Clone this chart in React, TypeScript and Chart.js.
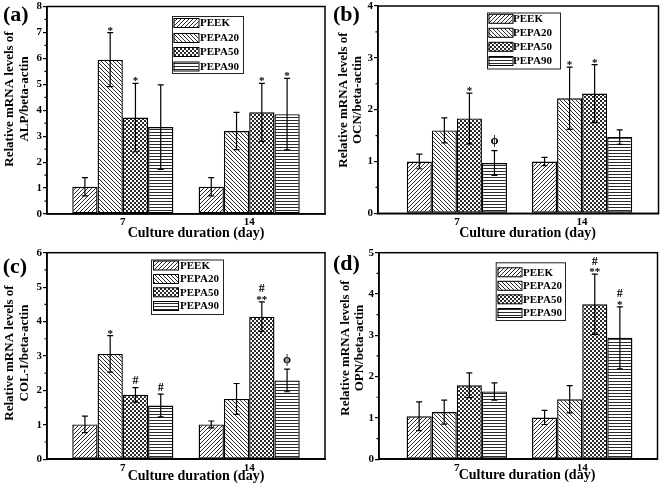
import React, { useEffect, useRef } from 'react';
import { Chart, registerables } from 'chart.js';
Chart.register(...registerables);

const W = 661;
const H = 487;
const FONT = '"Liberation Serif", "Times New Roman", Times, serif';

const seriesNames = ['PEEK', 'PEPA20', 'PEPA50', 'PEPA90'];
const dayLabels = ['7', '14'];
const dayPositions = [1, 2];

// (a) ALP
const alpPEEK = [1.05, 1.05];
const alpPEPA20 = [5.95, 3.2];
const alpPEPA50 = [3.72, 3.92];
const alpPEPA90 = [3.35, 3.85];
const alpErrPEEK = [0.35, 0.35];
const alpErrPEPA20 = [1.04, 0.72];
const alpErrPEPA50 = [1.32, 1.12];
const alpErrPEPA90 = [1.63, 1.38];
const alpMarks = [['', ''], ['*', ''], ['*', '*'], ['', '*']];

// (b) OCN
const ocnPEEK = [1.0, 1.0];
const ocnPEPA20 = [1.6, 2.22];
const ocnPEPA50 = [1.83, 2.31];
const ocnPEPA90 = [0.97, 1.47];
const ocnErrPEEK = [0.14, 0.08];
const ocnErrPEPA20 = [0.24, 0.6];
const ocnErrPEPA50 = [0.49, 0.56];
const ocnErrPEPA90 = [0.24, 0.14];
const ocnMarks = [['', ''], ['', '*'], ['*', '*'], ['ϕ', '']];

// (c) COL-I
const colPEEK = [1.01, 1.01];
const colPEPA20 = [3.06, 1.75];
const colPEPA50 = [1.87, 4.14];
const colPEPA90 = [1.56, 2.29];
const colErrPEEK = [0.24, 0.1];
const colErrPEPA20 = [0.53, 0.45];
const colErrPEPA50 = [0.21, 0.43];
const colErrPEPA90 = [0.33, 0.33];
const colMarks = [['', ''], ['*', ''], ['#', '#\n**'], ['#', 'ϕ']];

// (d) OPN
const opnPEEK = [1.04, 1.01];
const opnPEPA20 = [1.14, 1.45];
const opnPEPA50 = [1.79, 3.75];
const opnPEPA90 = [1.64, 2.94];
const opnErrPEEK = [0.35, 0.17];
const opnErrPEPA20 = [0.29, 0.33];
const opnErrPEPA50 = [0.3, 0.73];
const opnErrPEPA90 = [0.21, 0.75];
const opnMarks = [['', ''], ['', ''], ['', '#\n**'], ['', '#\n*']];

type Panel = {
  id: string;
  label: string;
  yTitle: string[];
  yMax: number;
  values: number[][];
  errors: number[][];
  marks: string[][];
  area: { l: number; r: number; t: number; b: number };
  xMin: number;
  xMax: number;
  labelPos: [number, number];
  yTitleX: [number, number];
  yTitleY: number;
  xTitlePos: [number, number];
  legend: { x: number; y: number; w: number; h: number; rows: number[]; sx: number; sw: number; tx: number };
};

const xTitle = 'Culture duration (day)';

const panels: Panel[] = [
  {
    id: 'a', label: '(a)', yTitle: ['Relative mRNA levels of', 'ALP/beta-actin'], yMax: 8,
    values: [alpPEEK, alpPEPA20, alpPEPA50, alpPEPA90],
    errors: [alpErrPEEK, alpErrPEPA20, alpErrPEPA50, alpErrPEPA90],
    marks: alpMarks,
    area: { l: 47, r: 325, t: 6.5, b: 214 }, xMin: 0.4, xMax: 2.6,
    labelPos: [3, 15.5], yTitleX: [10, 25], yTitleY: 99, xTitlePos: [196, 233],
    legend: { x: 172, y: 16, w: 71, h: 57, rows: [23, 38, 52, 66.5], sx: 173.5, sw: 25, tx: 200 },
  },
  {
    id: 'b', label: '(b)', yTitle: ['Relative mRNA levels of', 'OCN/beta-actin'], yMax: 4,
    values: [ocnPEEK, ocnPEPA20, ocnPEPA50, ocnPEPA90],
    errors: [ocnErrPEEK, ocnErrPEPA20, ocnErrPEPA50, ocnErrPEPA90],
    marks: ocnMarks,
    area: { l: 378, r: 658.5, t: 6, b: 213.3 }, xMin: 0.37, xMax: 2.61,
    labelPos: [333, 15.5], yTitleX: [344, 358], yTitleY: 100, xTitlePos: [527.5, 233],
    legend: { x: 487, y: 12.5, w: 73, h: 56, rows: [18.8, 32.8, 46.8, 61], sx: 488.5, sw: 24, tx: 513 },
  },
  {
    id: 'c', label: '(c)', yTitle: ['Relative mRNA levels of', 'COL-I/beta-actin'], yMax: 6,
    values: [colPEEK, colPEPA20, colPEPA50, colPEPA90],
    errors: [colErrPEEK, colErrPEPA20, colErrPEPA50, colErrPEPA90],
    marks: colMarks,
    area: { l: 47, r: 325, t: 252.7, b: 459.2 }, xMin: 0.4, xMax: 2.6,
    labelPos: [2.7, 267], yTitleX: [9.5, 25], yTitleY: 353, xTitlePos: [196, 476],
    legend: { x: 151, y: 259.5, w: 72, h: 54.5, rows: [265.5, 279, 292.3, 306], sx: 153, sw: 25, tx: 180 },
  },
  {
    id: 'd', label: '(d)', yTitle: ['Relative mRNA levels of', 'OPN/beta-actin'], yMax: 5,
    values: [opnPEEK, opnPEPA20, opnPEPA50, opnPEPA90],
    errors: [opnErrPEEK, opnErrPEPA20, opnErrPEPA50, opnErrPEPA90],
    marks: opnMarks,
    area: { l: 379, r: 657.5, t: 252.7, b: 459.2 }, xMin: 0.38, xMax: 2.6,
    labelPos: [333, 264], yTitleX: [345.5, 360], yTitleY: 348, xTitlePos: [527, 475],
    legend: { x: 495.7, y: 262.3, w: 69.3, h: 57.7, rows: [272.3, 285.8, 299.3, 313], sx: 497.5, sw: 24, tx: 523 },
  },
];

function makePattern(ctx: CanvasRenderingContext2D, kind: number): CanvasPattern {
  const c = document.createElement('canvas');
  const s = kind === 3 ? 3 : 4;
  c.width = 4;
  c.height = s;
  const g = c.getContext('2d')!;
  g.fillStyle = '#ffffff';
  g.fillRect(0, 0, 4, s);
  g.strokeStyle = '#2a2a2a';
  g.fillStyle = '#2a2a2a';
  g.lineWidth = 1;
  if (kind === 0) {
    g.beginPath();
    g.moveTo(0, 4); g.lineTo(4, 0);
    g.moveTo(-1, 1); g.lineTo(1, -1);
    g.moveTo(3, 5); g.lineTo(5, 3);
    g.stroke();
  } else if (kind === 1) {
    g.beginPath();
    g.moveTo(0, 0); g.lineTo(4, 4);
    g.moveTo(3, -1); g.lineTo(5, 1);
    g.moveTo(-1, 3); g.lineTo(1, 5);
    g.stroke();
  } else if (kind === 2) {
    g.fillRect(0, 0, 2, 2);
    g.fillRect(2, 2, 2, 2);
  } else {
    g.fillRect(0, 0, 4, 1);
  }
  return ctx.createPattern(c, 'repeat')!;
}

function markBaseOffset(s: string): number {
  if (s.includes('*')) return 1;
  if (s.includes('#')) return -3.5;
  return -6.5;
}
function markFont(s: string): string {
  if (s.includes('*')) return `bold 11px ${FONT}`;
  if (s.includes('#')) return `bold 12px ${FONT}`;
  return `bold 13px ${FONT}`;
}

function decoPlugin(p: Panel, pats: CanvasPattern[]) {
  return {
    id: 'deco' + p.id,
    afterDatasetsDraw(chart: any) {
      const ctx: CanvasRenderingContext2D = chart.ctx;
      const ys = chart.scales.y;
      ctx.save();
      ctx.strokeStyle = '#000';
      ctx.lineWidth = 1.2;
      chart.data.datasets.forEach((_ds: any, i: number) => {
        const meta = chart.getDatasetMeta(i);
        meta.data.forEach((el: any, j: number) => {
          const v = p.values[i][j];
          const e = p.errors[i][j];
          const yt = ys.getPixelForValue(v + e);
          const yb = ys.getPixelForValue(v - e);
          ctx.beginPath();
          ctx.moveTo(el.x, yt); ctx.lineTo(el.x, yb);
          ctx.moveTo(el.x - 3, yt); ctx.lineTo(el.x + 3, yt);
          ctx.moveTo(el.x - 3, yb); ctx.lineTo(el.x + 3, yb);
          ctx.stroke();
          const m = p.marks[i][j];
          if (m) {
            const lines = m.split('\n');
            ctx.fillStyle = '#000';
            ctx.textAlign = 'center';
            ctx.textBaseline = 'alphabetic';
            let base = yt + markBaseOffset(lines[lines.length - 1]);
            for (let k = lines.length - 1; k >= 0; k--) {
              ctx.font = markFont(lines[k]);
              ctx.fillText(lines[k], el.x, base);
              base -= 10.5;
            }
          }
        });
      });
      ctx.restore();
    },
    afterDraw(chart: any) {
      const ctx: CanvasRenderingContext2D = chart.ctx;
      const a = chart.chartArea;
      const ys = chart.scales.y;
      ctx.save();
      ctx.strokeStyle = '#000';
      ctx.lineWidth = 1.5;
      ctx.strokeRect(a.left, a.top, a.right - a.left, a.bottom - a.top);
      ctx.lineWidth = 1.2;
      ctx.beginPath();
      for (let v = 0.5; v < p.yMax; v += 1) {
        const y = ys.getPixelForValue(v);
        ctx.moveTo(a.left - 2.5, y);
        ctx.lineTo(a.left, y);
      }
      ctx.stroke();
      ctx.fillStyle = '#000';
      ctx.font = `bold 22px ${FONT}`;
      ctx.textAlign = 'left';
      ctx.textBaseline = 'middle';
      ctx.fillText(p.label, p.labelPos[0], p.labelPos[1]);
      ctx.font = `bold 14px ${FONT}`;
      ctx.textAlign = 'center';
      ctx.fillText(xTitle, p.xTitlePos[0], p.xTitlePos[1]);
      ctx.font = `bold 13px ${FONT}`;
      p.yTitle.forEach((t, k) => {
        ctx.save();
        ctx.translate(p.yTitleX[k], p.yTitleY);
        ctx.rotate(-Math.PI / 2);
        ctx.fillText(t, 0, 0);
        ctx.restore();
      });
      const L = p.legend;
      ctx.lineWidth = 1;
      ctx.strokeStyle = '#222';
      ctx.strokeRect(L.x + 0.5, L.y + 0.5, L.w, L.h);
      ctx.font = `bold 11px ${FONT}`;
      ctx.textAlign = 'left';
      ctx.textBaseline = 'middle';
      seriesNames.forEach((n, i) => {
        const cy = L.rows[i];
        ctx.fillStyle = pats[i];
        ctx.fillRect(L.sx, cy - 4.5, L.sw, 9);
        ctx.strokeStyle = '#000';
        ctx.strokeRect(L.sx + 0.5, cy - 4.5, L.sw, 9);
        ctx.fillStyle = '#000';
        ctx.fillText(n, L.tx, cy + 0.5);
      });
      ctx.restore();
    },
  };
}

function PanelChart({ p }: { p: Panel }) {
  const ref = useRef<HTMLCanvasElement>(null);
  useEffect(() => {
    const canvas = ref.current!;
    const ctx = canvas.getContext('2d')!;
    const pats = [0, 1, 2, 3].map((k) => makePattern(ctx, k));
    const yW = 30;
    const xH = 30;
    const tickFont = { family: FONT, size: 11, weight: 'bold' as const };
    const chart = new Chart(canvas, {
      type: 'bar',
      data: {
        datasets: seriesNames.map((n, i) => ({
          label: n,
          data: dayPositions.map((x, j) => ({ x, y: p.values[i][j] })),
          backgroundColor: pats[i],
          borderColor: '#000',
          borderWidth: 1.4,
          borderSkipped: false,
          categoryPercentage: 0.8,
          barPercentage: 1,
        })),
      },
      options: {
        responsive: false,
        animation: false,
        devicePixelRatio: 1,
        events: [],
        layout: {
          padding: {
            left: p.area.l - yW,
            right: W - p.area.r,
            top: p.area.t,
            bottom: H - p.area.b - xH,
          },
        },
        plugins: { legend: { display: false }, tooltip: { enabled: false } },
        scales: {
          x: {
            type: 'linear',
            min: p.xMin,
            max: p.xMax,
            offset: false,
            afterBuildTicks: (s: any) => {
              s.ticks = dayPositions.map((v) => ({ value: v }));
            },
            afterFit: (s: any) => {
              s.height = xH;
              s.paddingLeft = 0;
              s.paddingRight = 0;
            },
            grid: { display: false, drawTicks: false },
            border: { display: true, color: '#000', width: 1.5 },
            ticks: {
              callback: (v: any) => {
                const k = dayPositions.indexOf(Number(v));
                return k >= 0 ? dayLabels[k] : '';
              },
              font: tickFont,
              color: '#000',
              padding: 2,
              maxRotation: 0,
              autoSkip: false,
            },
          },
          y: {
            type: 'linear',
            min: 0,
            max: p.yMax,
            afterFit: (s: any) => {
              s.width = yW;
              s.paddingTop = 0;
              s.paddingBottom = 0;
            },
            grid: { drawOnChartArea: false, drawTicks: true, tickLength: 4, color: '#000', lineWidth: 1.2 },
            border: { display: true, color: '#000', width: 1.5 },
            ticks: { stepSize: 1, font: tickFont, color: '#000', padding: 1 },
          },
        },
      } as any,
      plugins: [decoPlugin(p, pats)],
    });
    let alive = true;
    const fs: any = (document as any).fonts;
    if (fs && fs.load) {
      Promise.all([
        fs.load(`bold 12px "Liberation Serif"`),
        fs.load(`12px "Liberation Serif"`),
      ])
        .then(() => {
          if (alive) chart.update();
        })
        .catch(() => {});
    }
    return () => {
      alive = false;
      chart.destroy();
    };
  }, []);
  return (
    <canvas
      ref={ref}
      width={W}
      height={H}
      style={{ position: 'absolute', left: 0, top: 0, width: W, height: H }}
    />
  );
}

export default function App() {
  return (
    <div style={{ position: 'absolute', left: 0, top: 0, width: W, height: H, background: '#fff', fontFamily: FONT }}>
      <span style={{ position: 'absolute', left: -9999, top: 0, fontWeight: 'bold' }}>PEEK</span>
      {panels.map((p) => (
        <PanelChart key={p.id} p={p} />
      ))}
    </div>
  );
}
